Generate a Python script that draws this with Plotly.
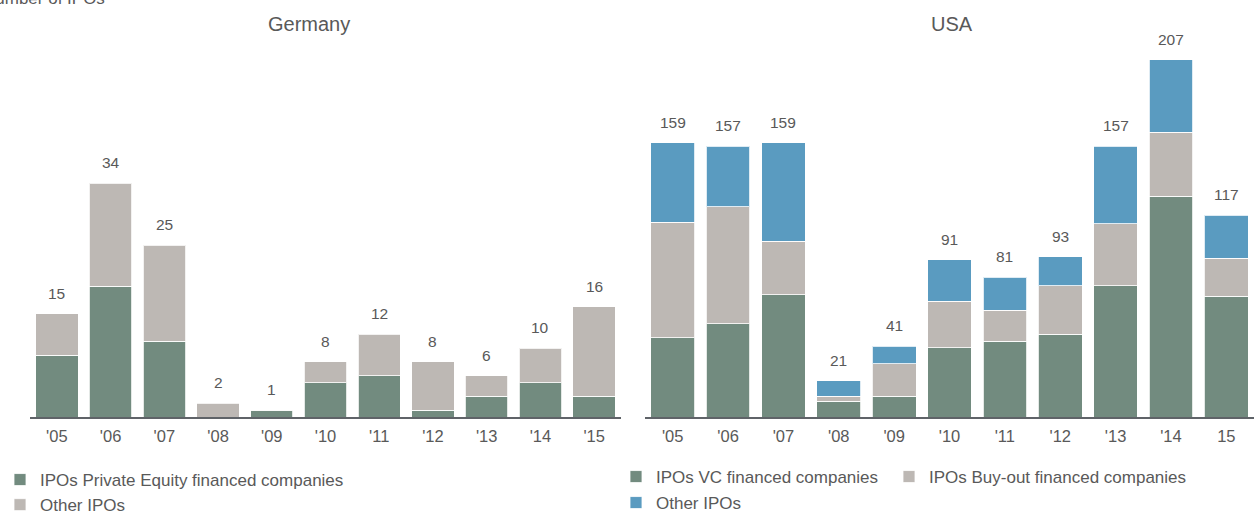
import plotly.graph_objects as go

years_de = ["'05", "'06", "'07", "'08", "'09", "'10", "'11", "'12", "'13", "'14", "'15"]
years_us = ["'05", "'06", "'07", "'08", "'09", "'10", "'11", "'12", "'13", "'14", "15"]

de_pe = [9, 19, 11, 0, 1, 5, 6, 1, 3, 5, 3]
de_other = [6, 15, 14, 2, 0, 3, 6, 7, 3, 5, 13]

us_vc = [46, 54, 71, 9, 12, 40, 44, 48, 76, 128, 70]
us_bo = [67, 68, 31, 3, 19, 27, 18, 28, 36, 37, 22]
us_other = [46, 35, 57, 9, 10, 24, 19, 17, 45, 42, 25]

GREEN = "#728b7f"
GREY = "#bdb8b4"
BLUE = "#5a9bc0"
TXT = "#595959"
FONT = "Liberation Sans, Arial, sans-serif"

W, H = 1254, 511
ML, MR, MT, MB = 30, 0, 40, 94
PW, PH = W - ML - MR, H - MT - MB


def px(xp):
    return (xp - ML) / PW


def py(yp):
    return (H - MB - yp) / PH


fig = go.Figure()
mline = dict(color="rgba(255,255,255,0.8)", width=1)

fig.add_trace(go.Bar(x=years_de, y=de_pe, name="IPOs Private Equity financed companies",
                     marker=dict(color=GREEN, line=mline), xaxis="x", yaxis="y", legend="legend"))
fig.add_trace(go.Bar(x=years_de, y=de_other, name="Other IPOs",
                     marker=dict(color=GREY, line=mline), xaxis="x", yaxis="y", legend="legend"))

fig.add_trace(go.Bar(x=years_us, y=us_vc, name="IPOs VC financed companies",
                     marker=dict(color=GREEN, line=mline), xaxis="x2", yaxis="y2", legend="legend2"))
fig.add_trace(go.Bar(x=years_us, y=us_bo, name="IPOs Buy-out financed companies",
                     marker=dict(color=GREY, line=mline), xaxis="x2", yaxis="y2", legend="legend3"))
fig.add_trace(go.Bar(x=years_us, y=us_other, name="Other IPOs",
                     marker=dict(color=BLUE, line=mline), xaxis="x2", yaxis="y2", legend="legend4"))

lab_font = dict(size=15.5, color=TXT, family=FONT)
annotations = []
for i, (p, o) in enumerate(zip(de_pe, de_other)):
    annotations.append(dict(x=i, y=p + o, xref="x", yref="y", text=str(p + o),
                            showarrow=False, yanchor="bottom", yshift=10, font=lab_font))
for i, (v, b, o) in enumerate(zip(us_vc, us_bo, us_other)):
    t = v + b + o
    annotations.append(dict(x=i, y=t, xref="x2", yref="y2", text=str(t),
                            showarrow=False, yanchor="bottom", yshift=10, font=lab_font))

title_font = dict(size=20, color=TXT, family=FONT)
annotations.append(dict(x=px(309), y=py(24), xref="paper", yref="paper",
                        text="Germany", showarrow=False, xanchor="center", yanchor="middle",
                        font=title_font))
annotations.append(dict(x=px(952), y=py(24), xref="paper", yref="paper",
                        text="USA", showarrow=False, xanchor="center", yanchor="middle",
                        font=title_font))
annotations.append(dict(x=px(107), y=py(-1), xref="paper", yref="paper",
                        text="Number of IPOs", showarrow=False, xanchor="right", yanchor="middle",
                        font=dict(size=17, color=TXT, family=FONT)))

axis_common = dict(showline=True, linecolor="#5f6368", linewidth=2,
                   ticks="outside", ticklen=3, tickcolor="rgba(0,0,0,0)",
                   tickfont=dict(size=16.5, color=TXT, family=FONT), showgrid=False,
                   zeroline=False, fixedrange=True, type="category", range=[-0.5, 10.5])
yaxis_common = dict(visible=False, showgrid=False, zeroline=False, fixedrange=True)

leg_font = dict(size=17, color=TXT, family=FONT)
leg_common = dict(xanchor="left", yanchor="top", orientation="v", font=leg_font,
                  bgcolor="rgba(0,0,0,0)", traceorder="normal", tracegroupgap=0)

fig.update_layout(
    width=W, height=H,
    margin=dict(l=ML, r=MR, t=MT, b=MB, autoexpand=False),
    barmode="stack",
    bargap=0.21,
    plot_bgcolor="white", paper_bgcolor="white",
    font=dict(family=FONT, color=TXT),
    xaxis=dict(domain=[0, px(621)], anchor="y", categoryarray=years_de, **axis_common),
    yaxis=dict(range=[0, 54.8], domain=[0, 1], anchor="x", **yaxis_common),
    xaxis2=dict(domain=[px(645), 1], anchor="y2", categoryarray=years_us, **axis_common),
    yaxis2=dict(range=[0, 218.5], domain=[0, 1], anchor="x2", **yaxis_common),
    legend=dict(x=px(0), y=py(462), **leg_common),
    legend2=dict(x=px(616), y=py(459), **leg_common),
    legend3=dict(x=px(889), y=py(459), **leg_common),
    legend4=dict(x=px(616), y=py(485), **leg_common),
    annotations=annotations,
    showlegend=True,
)

fig.write_html("out.html", config={"displayModeBar": False},
               post_script="document.body.style.margin='0';")
